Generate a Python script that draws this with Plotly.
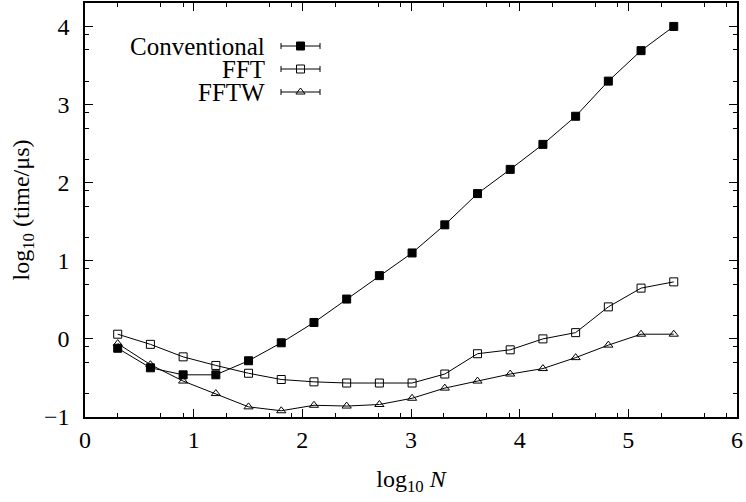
import plotly.graph_objects as go

# log10 N for N = 2 .. 262144
log_n = [0.301, 0.602, 0.903, 1.204, 1.505, 1.806, 2.107, 2.408, 2.709,
         3.010, 3.311, 3.612, 3.913, 4.214, 4.515, 4.816, 5.117, 5.418]

conventional = [-0.12, -0.37, -0.46, -0.46, -0.28, -0.05, 0.21, 0.51, 0.81,
                1.10, 1.46, 1.86, 2.17, 2.49, 2.85, 3.30, 3.69, 4.00]
fft = [0.06, -0.07, -0.23, -0.34, -0.44, -0.52, -0.55, -0.565, -0.565,
       -0.565, -0.45, -0.19, -0.14, 0.00, 0.08, 0.41, 0.65, 0.73]
fftw = [-0.06, -0.33, -0.54, -0.70, -0.87, -0.92, -0.85, -0.86, -0.84,
        -0.76, -0.63, -0.54, -0.45, -0.38, -0.24, -0.08, 0.06, 0.06]

series_names = ["Conventional", "FFT", "FFTW"]
series_values = [conventional, fft, fftw]
series_symbols = ["square", "square-open", "triangle-up-open"]

x_ticks = [0, 1, 2, 3, 4, 5, 6]
y_ticks = [-1, 0, 1, 2, 3, 4]
minor_offsets = [0.301, 0.699, 0.903]

FONT = "Liberation Serif"

fig = go.Figure()

for name, vals, sym in zip(series_names, series_values, series_symbols):
    fig.add_trace(go.Scatter(
        x=log_n, y=vals, mode="lines+markers", name=name,
        line=dict(color="black", width=1),
        marker=dict(symbol=sym, size=8,
                    color="black", line=dict(color="black", width=1)),
        showlegend=False,
    ))

# custom legend (text right-aligned, sample with caps to the right)
legend_y = [46, 69, 92]
for name, sym, ly in zip(series_names, series_symbols, legend_y):
    fig.add_trace(go.Scatter(
        x=[300.5], y=[ly], xaxis="x2", yaxis="y2", mode="markers",
        marker=dict(symbol=sym, size=8, color="black",
                    line=dict(color="black", width=1)),
        error_x=dict(type="constant", value=19.5, width=3,
                     color="black", thickness=1),
        showlegend=False, hoverinfo="skip",
    ))
    fig.add_annotation(x=266, y=ly, xref="x2", yref="y2", text=name,
                       showarrow=False, xanchor="right", yanchor="middle",
                       borderpad=0, height=21, valign="middle",
                       font=dict(family=FONT, size=25, color="black"))

x_minor = [k + o for k in range(6) for o in minor_offsets]
y_minor = [k + o for k in range(-1, 5) for o in minor_offsets if k + o <= 4.3]

fig.update_layout(
    width=746, height=502,
    margin=dict(l=85, r=9, t=3, b=85),
    paper_bgcolor="white", plot_bgcolor="white",
    font=dict(family=FONT, size=24, color="black"),
    xaxis=dict(
        range=[0, 6], tickvals=x_ticks, ticks="inside", ticklen=8,
        tickcolor="black", showline=True, linecolor="black", linewidth=1.5,
        mirror="allticks", showgrid=False, zeroline=False, automargin=False,
        ticklabeloverflow="allow",
        minor=dict(tickvals=x_minor, ticks="inside", ticklen=4,
                   tickcolor="black", showgrid=False),
        title=dict(text="log<sub>10</sub> <i>N</i>", standoff=19,
                   font=dict(family=FONT, size=24)),
        tickfont=dict(family=FONT, size=24),
    ),
    yaxis=dict(
        range=[-1, 4.3], tickvals=y_ticks, ticks="inside", ticklen=8,
        tickcolor="black", showline=True, linecolor="black", linewidth=1.5,
        mirror="allticks", showgrid=False, zeroline=False, automargin=False,
        ticklabeloverflow="allow", ticklabelstandoff=9,
        minor=dict(tickvals=y_minor, ticks="inside", ticklen=4,
                   tickcolor="black", showgrid=False),
        title=dict(text="log<sub>10</sub> (time/μs)", standoff=8,
                   font=dict(family=FONT, size=24)),
        tickfont=dict(family=FONT, size=24),
    ),
    xaxis2=dict(range=[85, 737], overlaying="x", visible=False,
                showgrid=False, zeroline=False, fixedrange=True),
    yaxis2=dict(range=[417, 3], overlaying="y", visible=False,
                showgrid=False, zeroline=False, fixedrange=True),
)

fig.write_html(
    "out.html",
    config={"displayModeBar": False},
    post_script="document.body.style.margin='0';document.body.style.overflow='hidden';",
)
